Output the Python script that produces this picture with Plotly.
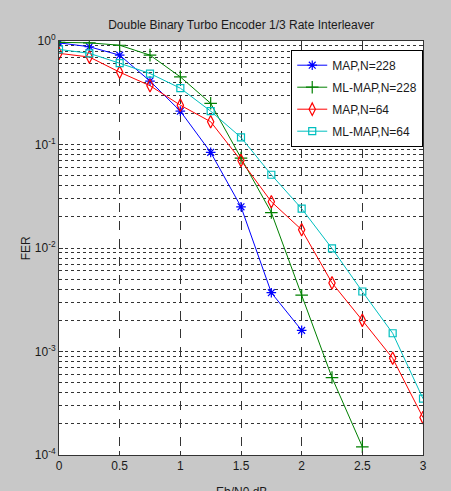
import plotly.graph_objects as go

title = "Double Binary Turbo Encoder 1/3 Rate Interleaver"

x_map228 = [0, 0.25, 0.5, 0.75, 1.0, 1.25, 1.5, 1.75, 2.0]
fer_map228 = [0.96, 0.88, 0.73, 0.41, 0.21, 0.084, 0.025, 0.0037, 0.0016]

x_mlmap228 = [0, 0.25, 0.5, 0.75, 1.0, 1.25, 1.5, 1.75, 2.0, 2.25, 2.5]
fer_mlmap228 = [0.97, 0.96, 0.91, 0.73, 0.45, 0.25, 0.074, 0.022, 0.0035, 0.00056, 0.00012]

x_map64 = [0, 0.25, 0.5, 0.75, 1.0, 1.25, 1.5, 1.75, 2.0, 2.25, 2.5, 2.75, 3.0]
fer_map64 = [0.76, 0.70, 0.50, 0.37, 0.24, 0.166, 0.070, 0.028, 0.015, 0.0046, 0.0020, 0.00086, 0.00023]

x_mlmap64 = [0, 0.25, 0.5, 0.75, 1.0, 1.25, 1.5, 1.75, 2.0, 2.25, 2.5, 2.75, 3.0]
fer_mlmap64 = [0.83, 0.76, 0.61, 0.485, 0.35, 0.21, 0.117, 0.051, 0.024, 0.0099, 0.0038, 0.0015, 0.00035]

x_ticks = [0, 0.5, 1, 1.5, 2, 2.5, 3]
x_ticktext = ["0", "0.5", "1", "1.5", "2", "2.5", "3"]
y_ticks = [1e-4, 1e-3, 1e-2, 1e-1, 1]
y_ticktext = ["10<sup>-4</sup>", "10<sup>-3</sup>", "10<sup>-2</sup>", "10<sup>-1</sup>", "10<sup>0</sup>"]

series = [
    ("MAP,N=228", x_map228, fer_map228, "#0000ff", "asterisk-open", 8),
    ("ML-MAP,N=228", x_mlmap228, fer_mlmap228, "#008000", "cross-thin-open", 9),
    ("MAP,N=64", x_map64, fer_map64, "#ff0000", "diamond-tall-open", 9),
    ("ML-MAP,N=64", x_mlmap64, fer_mlmap64, "#00bfbf", "square-open", 7),
]

fig = go.Figure()
for i, (name, xs, ys, col, sym, sz) in enumerate(series):
    fig.add_trace(go.Scatter(
        x=xs, y=ys, name=name, mode="lines+markers", legendgroup=f"g{i}",
        line=dict(color=col, width=1),
        marker=dict(symbol=sym, size=sz, color=col, line=dict(color=col, width=1.2)),
    ))

font = "Liberation Sans, Arial, sans-serif"
fig.update_layout(
    width=451, height=491,
    margin=dict(l=59, r=28, t=41, b=36),
    paper_bgcolor="#c8c8c8",
    plot_bgcolor="white",
    font=dict(family=font, size=12, color="#1a1a1a"),
    title=dict(text=title, x=0.535, xanchor="center", y=0.95, yanchor="middle",
               font=dict(size=12, family=font, color="#1a1a1a")),
    showlegend=True,
    legend=dict(x=0.638, y=0.979, xanchor="left", yanchor="top",
                bgcolor="white", bordercolor="black", borderwidth=1,
                font=dict(size=12, family=font, color="#1a1a1a"),
                tracegroupgap=3, itemwidth=30),
    xaxis=dict(range=[0, 3], tickvals=x_ticks, ticktext=x_ticktext,
               showgrid=True, gridcolor="#333333", griddash="dash", gridwidth=1,
               showline=True, linecolor="#333333", linewidth=1, mirror="ticks",
               ticks="inside", ticklen=4, tickcolor="#333333", automargin=False,
               zeroline=False, tickfont=dict(size=12)),
    yaxis=dict(type="log", range=[-4, 0], tickvals=y_ticks, ticktext=y_ticktext,
               showgrid=True, gridcolor="#333333", griddash="dot", gridwidth=1,
               showline=True, linecolor="#333333", linewidth=1, mirror="ticks",
               ticks="inside", ticklen=4, tickcolor="#333333", automargin=False,
               minor=dict(dtick="D1", showgrid=True, gridcolor="#333333", griddash="dot",
                          ticks="inside", ticklen=2, tickcolor="#333333"),
               zeroline=False, tickfont=dict(size=12)),
    annotations=[
        dict(text="FER", xref="paper", yref="paper", x=-0.09, y=0.5,
             xanchor="center", yanchor="middle", textangle=-90, showarrow=False,
             font=dict(size=12, family=font, color="#1a1a1a")),
        dict(text="Eb/N0 dB", xref="paper", yref="paper", x=0.5, y=-0.068,
             xanchor="center", yanchor="top", showarrow=False,
             font=dict(size=12, family=font, color="#1a1a1a")),
    ],
)

fig.write_html("out.html", config={"displayModeBar": False},
               post_script="document.body.style.margin='0';document.body.style.padding='0';document.body.style.background='#c8c8c8';")
